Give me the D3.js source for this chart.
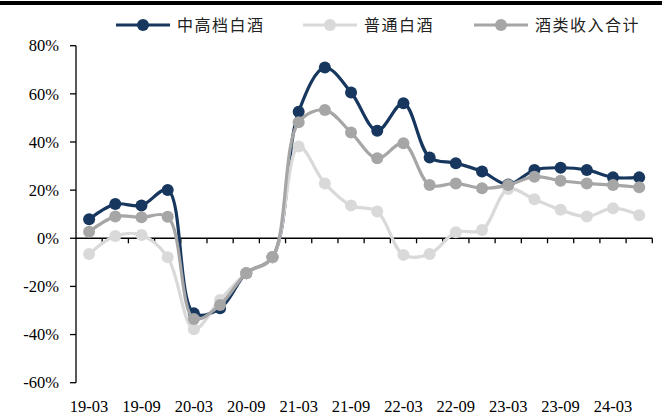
<!DOCTYPE html>
<html>
<head>
<meta charset="utf-8">
<script src="https://cdn.jsdelivr.net/npm/d3@7"></script>
<style>
  html, body { margin: 0; padding: 0; background: #fff; overflow: hidden; }
  svg { display: block; }
</style>
</head>
<body>
<div id="chart"></div>
<script>
const quarters = [
  "19-03", "19-06", "19-09", "19-12", "20-03", "20-06", "20-09", "20-12",
  "21-03", "21-06", "21-09", "21-12", "22-03", "22-06", "22-09", "22-12",
  "23-03", "23-06", "23-09", "23-12", "24-03", "24-06"
];
const tickLabels = ["19-03", "19-09", "20-03", "20-09", "21-03", "21-09", "22-03", "22-09", "23-03", "23-09", "24-03"];
const yTicks = [-60, -40, -20, 0, 20, 40, 60, 80];

const seriesNames = ["中高档白酒", "普通白酒", "酒类收入合计"];
const highEnd = [7.9, 14.2, 13.6, 20.1, -31.2, -29.1, -14.5, -7.9, 52.6, 70.9, 60.6, 44.7, 56.1, 33.6, 31.2, 27.7, 22.3, 28.4, 29.3, 28.4, 25.3, 25.3];
const ordinary = [-6.5, 0.9, 1.4, -7.9, -37.8, -25.6, -14.5, -8.0, 38.1, 22.8, 13.6, 11.1, -6.9, -6.5, 2.5, 3.4, 20.5, 16.2, 11.8, 9.0, 12.5, 9.6];
const totalLiquor = [2.7, 9.0, 8.7, 8.9, -33.5, -27.7, -14.5, -7.8, 48.2, 53.3, 43.9, 33.2, 39.5, 22.1, 22.8, 20.8, 22.1, 25.6, 23.9, 22.8, 22.1, 21.2];
const seriesColors = ["#17375e", "#d9d9d9", "#a6a6a6"];

const width = 662;
const height = 419;
const plot = { left: 76, right: 652.3, top: 45.7, bottom: 382.7 };
const serif = "'Liberation Serif', 'Times New Roman', serif";

const svg = d3.select("#chart").append("svg")
  .attr("width", width)
  .attr("height", height);

// black rule along the top edge
svg.append("rect")
  .attr("x", 0).attr("y", 1)
  .attr("width", width).attr("height", 4)
  .attr("fill", "#000");

const x = d3.scaleBand().domain(quarters).range([plot.left, plot.right]).padding(0);
const y = d3.scaleLinear().domain([-60, 80]).range([plot.bottom, plot.top]);
const cx = (q) => x(q) + x.bandwidth() / 2;

// y axis
svg.append("line")
  .attr("x1", plot.left).attr("x2", plot.left)
  .attr("y1", y(80)).attr("y2", y(-60))
  .attr("stroke", "#000").attr("stroke-width", 1.3);

svg.selectAll(".ytick")
  .data(yTicks)
  .enter()
  .append("line")
  .attr("x1", plot.left - 6).attr("x2", plot.left)
  .attr("y1", (d) => y(d)).attr("y2", (d) => y(d))
  .attr("stroke", "#000").attr("stroke-width", 1.3);

svg.selectAll(".ylabel")
  .data(yTicks)
  .enter()
  .append("text")
  .style("font-family", serif)
  .style("font-size", "16.5px")
  .attr("fill", "#000")
  .attr("x", plot.left - 17)
  .attr("y", (d) => y(d))
  .attr("dy", "0.35em")
  .attr("text-anchor", "end")
  .text((d) => d + "%");

// x axis at zero
svg.append("line")
  .attr("x1", plot.left).attr("x2", plot.right)
  .attr("y1", y(0)).attr("y2", y(0))
  .attr("stroke", "#000").attr("stroke-width", 1.3);

const boundaries = quarters.map((q) => x(q)).concat([x.range()[1]]);
svg.selectAll(".xtick")
  .data(boundaries.slice(1))
  .enter()
  .append("line")
  .attr("x1", (d) => d).attr("x2", (d) => d)
  .attr("y1", y(0)).attr("y2", y(0) + 5)
  .attr("stroke", "#000").attr("stroke-width", 1.3);

svg.selectAll(".xlabel")
  .data(tickLabels)
  .enter()
  .append("text")
  .style("font-family", serif)
  .style("font-size", "16.5px")
  .attr("fill", "#000")
  .attr("x", (d) => cx(d))
  .attr("y", 411.5)
  .attr("text-anchor", "middle")
  .text((d) => d);

// series
const allSeries = [highEnd, ordinary, totalLiquor];
const line = d3.line()
  .x((d, i) => cx(quarters[i]))
  .y((d) => y(d))
  .curve(d3.curveCatmullRom.alpha(0.5));

allSeries.forEach((values, s) => {
  const g = svg.append("g");
  g.append("path")
    .datum(values)
    .attr("d", line)
    .attr("fill", "none")
    .attr("stroke", seriesColors[s])
    .attr("stroke-width", 3.2);
  g.selectAll("circle")
    .data(values)
    .enter()
    .append("circle")
    .attr("cx", (d, i) => cx(quarters[i]))
    .attr("cy", (d) => y(d))
    .attr("r", 6)
    .attr("fill", seriesColors[s]);
});

// legend
const legendX = [116, 303, 474];
const legendY = 25;
const legend = svg.selectAll(".legend")
  .data(seriesNames)
  .enter()
  .append("g")
  .attr("transform", (d, i) => `translate(${legendX[i]}, ${legendY})`);

legend.append("line")
  .attr("x1", 0).attr("x2", 54)
  .attr("stroke", (d, i) => seriesColors[i])
  .attr("stroke-width", 3.2);
legend.append("circle")
  .attr("cx", 27).attr("r", 6)
  .attr("fill", (d, i) => seriesColors[i]);
legend.append("text")
  .style("font-family", "'Noto Sans CJK SC', sans-serif")
  .style("font-size", "16px")
  .attr("fill", "#222")
  .attr("x", 61)
  .attr("dy", "0.36em")
  .attr("letter-spacing", "1.5px")
  .text((d) => d);
</script>
</body>
</html>
